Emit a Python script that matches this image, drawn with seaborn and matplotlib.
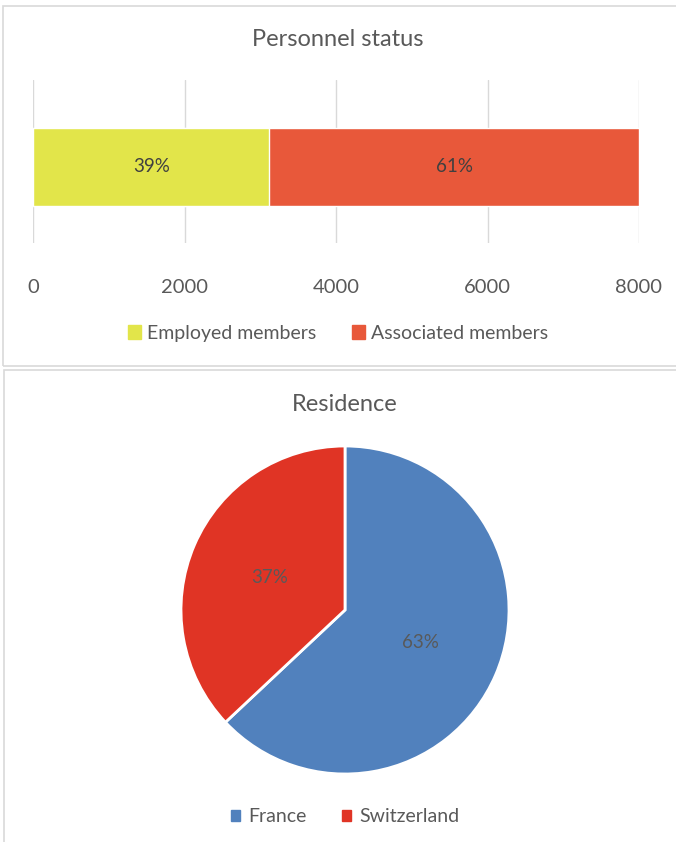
import matplotlib
matplotlib.use("Agg")
import matplotlib.pyplot as plt
from matplotlib.patches import Rectangle, Patch
import seaborn as sns

# data
status_labels = ["Employed members", "Associated members"]
status_values = [3120, 4880]
status_colors = ["#E2E54A", "#E8583A"]
x_ticks = [0, 2000, 4000, 6000, 8000]

residence_labels = ["France", "Switzerland"]
residence_values = [63, 37]
residence_colors = ["#5181BD", "#E03425"]

sns.set_style("white")
plt.rcParams["font.family"] = ["Lato", "DejaVu Sans"]
TXT = "#595959"

W, H = 676, 842
fig = plt.figure(figsize=(W / 100, H / 100), dpi=100)


def fr(x0, y0, x1, y1):
    # pixel box (top-left origin) -> figure fraction rect
    return [x0 / W, 1 - y1 / H, (x1 - x0) / W, (y1 - y0) / H]


# panel frames
for (x0, y0, x1, y1) in [(3, 6, 690, 366), (4, 370, 690, 860)]:
    fig.add_artist(Rectangle((x0 / W, 1 - y1 / H), (x1 - x0) / W, (y1 - y0) / H,
                             transform=fig.transFigure, fill=False,
                             edgecolor="#D9D9D9", linewidth=1.2))

# ---- Personnel status (stacked horizontal bar)
ax1 = fig.add_axes(fr(33, 80, 639, 243))
total = sum(status_values)
sns.barplot(x=[total], y=["s"], orient="h", color=status_colors[1],
            width=0.48, saturation=1, ax=ax1, zorder=3)
sns.barplot(x=[status_values[0]], y=["s"], orient="h", color=status_colors[0],
            width=0.48, saturation=1, ax=ax1, zorder=3)
ax1.set_xlim(0, 8000)
ax1.set_ylim(76 / 163, -87 / 163)
ax1.set_xticks(x_ticks)
ax1.set_xticklabels([str(t) for t in x_ticks])
ax1.set_yticks([])
ax1.set_xlabel("")
ax1.set_ylabel("")
ax1.tick_params(axis="x", length=0, pad=26, labelsize=14.5, labelcolor=TXT)
ax1.grid(axis="x", color="#D9D9D9", linewidth=1, zorder=0)
ax1.set_axisbelow(True)
for s in ax1.spines.values():
    s.set_visible(False)

left = 0
for v in status_values:
    ax1.text(left + v / 2, 0, f"{round(v / total * 100)}%", ha="center",
             va="center", fontsize=13.5, color="#404040", zorder=5)
    left += v

fig.text(338 / W, 1 - 40 / H, "Personnel status", ha="center", va="center",
         fontsize=17, color=TXT)
fig.legend(handles=[Patch(color=c, label=l) for c, l in zip(status_colors, status_labels)],
           loc="center", bbox_to_anchor=(338 / W, 1 - 333 / H), ncol=2,
           frameon=False, fontsize=14, labelcolor=TXT, handlelength=0.7,
           handleheight=0.7, handletextpad=0.3, columnspacing=1.8)

# ---- Residence (pie)
ax2 = fig.add_axes(fr(345 - 164, 610 - 164, 345 + 164, 610 + 164))
ax2.pie(residence_values, colors=residence_colors, startangle=90,
        counterclock=False, autopct="%1.0f%%", pctdistance=0.5,
        wedgeprops=dict(edgecolor="white", linewidth=2),
        textprops=dict(color=TXT, fontsize=13.5))
ax2.set_xlim(-1, 1)
ax2.set_ylim(-1, 1)

fig.text(345 / W, 1 - 404 / H, "Residence", ha="center", va="center",
         fontsize=17, color=TXT)
fig.legend(handles=[Patch(color=c, label=l) for c, l in zip(residence_colors, residence_labels)],
           loc="center", bbox_to_anchor=(345 / W, 1 - 817 / H), ncol=2,
           frameon=False, fontsize=14, labelcolor=TXT, handlelength=0.5,
           handleheight=0.5, handletextpad=0.4, columnspacing=1.8)

fig.savefig("out.png", dpi=100)
